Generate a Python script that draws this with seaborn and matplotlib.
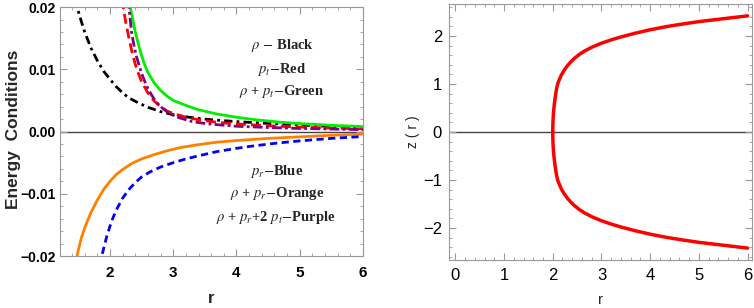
import numpy as np
import pandas as pd
import seaborn as sns
import matplotlib.pyplot as plt
from matplotlib.ticker import MultipleLocator

sns.set_style('ticks')
plt.rcParams['font.family'] = ['Liberation Sans', 'DejaVu Sans']
plt.rcParams['mathtext.fontset'] = 'stix'

# energy conditions
r_rho = [1.40, 1.45, 1.50, 1.55, 1.60, 1.70, 1.80, 1.90, 2.00, 2.10, 2.20, 2.30, 2.45, 2.60,
         2.80, 3.00, 3.25, 3.50, 3.75, 4.00, 4.50, 5.00, 5.50, 6.00]
rho = [0.0235, 0.0210, 0.0193, 0.0176, 0.0160, 0.0134, 0.0114, 0.0097, 0.0084, 0.0072,
       0.0062, 0.0054, 0.0046, 0.0039, 0.0032, 0.0027, 0.0023, 0.0020, 0.00178, 0.0016,
       0.0013, 0.00105, 0.0008, 0.00058]

r_pt = [2.19, 2.21, 2.25, 2.30, 2.35, 2.40, 2.45, 2.50, 2.60, 2.70, 2.80, 2.90, 3.00, 3.20,
        3.40, 3.60, 3.90, 4.20, 4.60, 5.00, 5.50, 6.00]
pt = [0.0225, 0.0200, 0.0175, 0.0150, 0.0127, 0.0108, 0.0093, 0.0080, 0.0062, 0.0049,
      0.0040, 0.0033, 0.0029, 0.0023, 0.0019, 0.0016, 0.0013, 0.0011, 0.00088, 0.00072,
      0.00056, 0.00043]

r_rho_pt = [2.29, 2.32, 2.36, 2.40, 2.45, 2.50, 2.55, 2.60, 2.70, 2.80, 2.90, 3.00, 3.20,
            3.40, 3.70, 4.00, 4.30, 4.70, 5.00, 5.50, 6.00]
rho_pt = [0.0215, 0.0200, 0.0180, 0.0160, 0.0140, 0.0122, 0.0107, 0.0095, 0.0078, 0.0066,
          0.0057, 0.0050, 0.0042, 0.0035, 0.0028, 0.0023, 0.0019, 0.0015, 0.00128, 0.0010,
          0.0008]

r_sec = [2.28, 2.30, 2.34, 2.38, 2.42, 2.47, 2.52, 2.58, 2.65, 2.72, 2.80, 2.90, 3.00, 3.10,
         3.30, 3.50, 3.70, 4.00, 4.50, 5.00, 5.50, 6.00]
sec = [0.0215, 0.0200, 0.0160, 0.0138, 0.0120, 0.0103, 0.0088, 0.0073, 0.0060, 0.0049,
       0.0040, 0.0032, 0.0026, 0.0022, 0.0016, 0.0013, 0.0011, 0.00085, 0.00065, 0.0005,
       0.0004, 0.0003]

r_rho_pr = [1.46, 1.474, 1.50, 1.55, 1.60, 1.65, 1.70, 1.80, 1.90, 2.00, 2.10, 2.20, 2.35,
            2.50, 2.70, 2.90, 3.10, 3.40, 3.70, 4.00, 4.50, 5.00, 5.50, 6.00]
rho_pr = [-0.0215, -0.0202, -0.0190, -0.0170, -0.0155, -0.0142, -0.0130, -0.0110, -0.0093,
          -0.0080, -0.0069, -0.0061, -0.0051, -0.0044, -0.0037, -0.0031, -0.0026, -0.0021,
          -0.0017, -0.00145, -0.0011, -0.00085, -0.0006, -0.0004]

r_pr = [1.85, 1.87, 1.90, 1.95, 2.00, 2.05, 2.10, 2.20, 2.30, 2.40, 2.50, 2.63, 2.80, 3.00,
        3.20, 3.40, 3.70, 4.00, 4.20, 4.60, 5.00, 5.50, 6.00]
pr = [-0.0215, -0.0200, -0.0188, -0.0168, -0.0152, -0.0138, -0.0126, -0.0107, -0.0093,
      -0.0082, -0.0073, -0.0065, -0.0057, -0.0050, -0.0044, -0.0039, -0.0032, -0.0027,
      -0.0024, -0.0019, -0.0015, -0.0011, -0.0008]

# embedding surface z(r), right panel
r_emb = [2.0, 2.001, 2.003, 2.006, 2.01, 2.02, 2.03, 2.045, 2.06, 2.08, 2.10, 2.13, 2.16,
         2.20, 2.25, 2.30, 2.37, 2.45, 2.55, 2.65, 2.80, 3.00, 3.20, 3.40, 3.70, 4.00, 4.30,
         4.60, 5.00, 5.50, 6.00]
z_upper = [0.0, 0.10, 0.18, 0.26, 0.33, 0.46, 0.56, 0.68, 0.79, 0.91, 1.00, 1.08, 1.15,
           1.23, 1.31, 1.38, 1.46, 1.54, 1.62, 1.685, 1.765, 1.85, 1.92, 1.98, 2.06, 2.13,
           2.19, 2.24, 2.30, 2.36, 2.42]
z_lower = [0.0, -0.10, -0.18, -0.26, -0.33, -0.46, -0.56, -0.68, -0.79, -0.91, -1.00, -1.08,
           -1.15, -1.23, -1.31, -1.38, -1.46, -1.54, -1.62, -1.685, -1.765, -1.85, -1.92,
           -1.98, -2.06, -2.13, -2.19, -2.24, -2.30, -2.36, -2.42]

fig = plt.figure(figsize=(7.54, 3.08), dpi=100)
ax1 = fig.add_axes([0.0796, 0.1688, 0.4018, 0.8082])
ax2 = fig.add_axes([0.5955, 0.156, 0.4018, 0.831])

series = [
    (r_rho, rho, 'black', (0, (3, 1.5, 1, 1.5))),
    (r_pt, pt, 'red', (0, (3.6, 1.8))),
    (r_rho_pt, rho_pt, '#00ee00', '-'),
    (r_sec, sec, '#800080', (0, (3.5, 1.2, 1, 1.2))),
    (r_rho_pr, rho_pr, '#ff8000', '-'),
    (r_pr, pr, 'blue', (0, (2.6, 1.6))),
]
for rr, vals, col, ls in series:
    df = pd.DataFrame({'r': rr, 'v': vals})
    sns.lineplot(data=df, x='r', y='v', ax=ax1, color=col, linestyle=ls, lw=2,
                 estimator=None, sort=False)

ax1.axhline(0, color='#444444', lw=1, zorder=0)
ax1.set_xlim(1.21, 6.0)
ax1.set_ylim(-0.02, 0.02)
ax1.set_xticks([2, 3, 4, 5, 6])
ax1.set_yticks([-0.02, -0.01, 0.0, 0.01, 0.02])
ax1.set_yticklabels(['\u22120.02', '\u22120.01', '0.00', '0.01', '0.02'])
ax1.xaxis.set_minor_locator(MultipleLocator(0.2))
ax1.yaxis.set_minor_locator(MultipleLocator(0.002))
for lab in ax1.get_xticklabels():
    lab.set_fontweight('bold')
    lab.set_fontsize(11)
for lab in ax1.get_yticklabels():
    lab.set_fontweight('bold')
    lab.set_fontsize(10)
ax1.tick_params(axis='x', pad=7)
ax1.tick_params(axis='y', pad=3)
ax1.set_xlabel('r', fontsize=12, fontweight='bold')
ax1.xaxis.set_label_coords(0.5, -0.14)
ax1.set_ylabel('Energy  Conditions', fontsize=12.5, fontweight='bold')
ax1.yaxis.set_label_coords(-0.13, 0.51)

tkw = dict(ha='center', va='center', fontsize=10.5, fontweight='bold',
           family=['Liberation Serif', 'DejaVu Serif'])
ax1.text(4.72, 0.0138, r'$\rho$ $-$ Black', **tkw)
ax1.text(4.72, 0.0100, r'$p_t$$-$Red', **tkw)
ax1.text(4.72, 0.0064, r'$\rho$ + $p_t$$-$Green', **tkw)
ax1.text(4.64, -0.0065, r'$p_r$$-$Blue', **tkw)
ax1.text(4.64, -0.0100, r'$\rho$ + $p_r$$-$Orange', **tkw)
ax1.text(4.62, -0.0138, r'$\rho$ + $p_r$+2 $p_t$$-$Purple', **tkw)

sns.lineplot(x=r_emb, y=z_upper, ax=ax2, color='red', lw=2.5, estimator=None, sort=False)
sns.lineplot(x=r_emb, y=z_lower, ax=ax2, color='red', lw=2.5, estimator=None, sort=False)
ax2.axhline(0, color='#444444', lw=1, zorder=0)
ax2.set_xlim(-0.13, 6.09)
ax2.set_ylim(-2.667, 2.667)
ax2.set_xticks([0, 1, 2, 3, 4, 5, 6])
ax2.set_yticks([-2, -1, 0, 1, 2])
ax2.set_yticklabels(['\u22122', '\u22121', '0', '1', '2'])
ax2.xaxis.set_minor_locator(MultipleLocator(0.2))
ax2.yaxis.set_minor_locator(MultipleLocator(0.2))
for lab in ax2.get_xticklabels() + ax2.get_yticklabels():
    lab.set_fontsize(12)
ax2.tick_params(axis='x', pad=6)
ax2.tick_params(axis='y', pad=5)
ax2.set_xlabel('r', fontsize=11)
ax2.xaxis.set_label_coords(0.5, -0.13)
ax2.set_ylabel('z ( r )', fontsize=10)
ax2.yaxis.set_label_coords(-0.096, 0.5)

for ax in (ax1, ax2):
    for sp in ax.spines.values():
        sp.set_visible(True)
        sp.set_color('#999999')
        sp.set_linewidth(0.8)
    ax.tick_params(which='both', direction='in', top=True, right=True, colors='#999999',
                   labelcolor='black')
    ax.tick_params(which='major', length=5, width=0.8)
    ax.tick_params(which='minor', length=2.5, width=0.6)

fig.savefig('out.png', dpi=100)
